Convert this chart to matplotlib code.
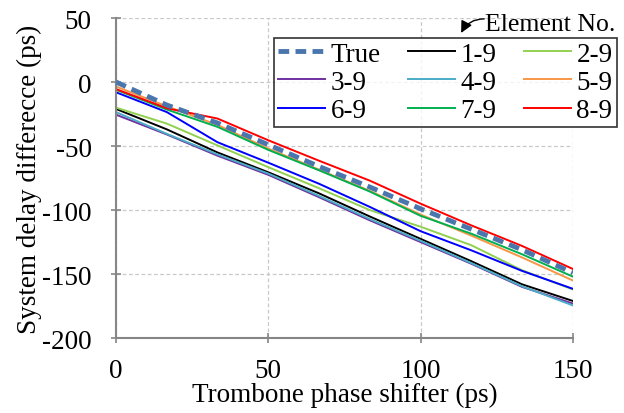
import matplotlib.pyplot as plt
import matplotlib.patches as mpatches
import numpy as np

plt.rcParams['font.family'] = ['Liberation Serif', 'DejaVu Serif']
plt.rcParams['axes.unicode_minus'] = False

# trombone phase shifter setting (ps)
x = [0, 16.7, 33.3, 50, 66.7, 83.3, 100, 116.7, 133.3, 150]

true_delay = [0, -18, -32, -49, -66, -82, -99, -115, -131, -149]
d_1_9 = [-21, -37, -55, -70.5, -87, -105, -122.5, -140, -158, -171]
d_2_9 = [-20, -32.5, -49.5, -66.5, -83, -100, -113, -127.5, -147, -162]
d_3_9 = [-25.5, -41, -57.5, -72.5, -90, -108, -125, -142, -160, -173]
d_4_9 = [-23.5, -40.5, -56.5, -71.5, -89, -107, -124, -141.5, -159.5, -174.5]
d_5_9 = [-3.5, -19, -33.5, -52, -68.5, -85, -103.5, -120, -137, -155]
d_6_9 = [-8, -23.5, -47, -63, -79.5, -97.5, -116.5, -131.5, -147.5, -161.5]
d_7_9 = [-6, -21.5, -35, -53, -69, -85.5, -104.5, -118.5, -134.5, -152]
d_8_9 = [-5.5, -20.5, -28.5, -45.5, -61.5, -77, -95, -112, -128, -146]

series = {
    "1-9": (d_1_9, "#000000"),
    "2-9": (d_2_9, "#92D050"),
    "3-9": (d_3_9, "#7030A0"),
    "4-9": (d_4_9, "#4BACC6"),
    "5-9": (d_5_9, "#F79646"),
    "6-9": (d_6_9, "#0000FF"),
    "7-9": (d_7_9, "#00B050"),
    "8-9": (d_8_9, "#FF0000"),
}

fig = plt.figure(figsize=(6.24, 4.14), dpi=100)
ax = fig.add_axes([0.186, 0.181, 0.732, 0.773])

handles = {}
for name, (vals, col) in series.items():
    h, = ax.plot(x, vals, color=col, lw=1.4, label=name)
    handles[name] = h
h, = ax.plot(x, true_delay, color="#4A76AD", lw=3.5, ls=(0, (2.2, 1.3)), label="True", zorder=5)
handles["True"] = h

ax.set_xlim(0, 150)
ax.set_ylim(-200, 50)
ax.set_xticks([0, 50, 100, 150])
ax.set_yticks(np.arange(-200, 51, 50))
ax.grid(True, color="#C8C8C8", ls=(0, (3, 2)), lw=0.9)
ax.set_axisbelow(True)
for s in ["top", "right"]:
    ax.spines[s].set_visible(False)
for s in ["left", "bottom"]:
    ax.spines[s].set_color("#868686")
    ax.spines[s].set_linewidth(1.5)
ax.tick_params(direction="inout", length=7, width=1.2, color="#868686", labelsize=19.5)
ax.tick_params(axis="y", pad=14)
ax.tick_params(axis="x", pad=11)

ax.set_xlabel("Trombone phase shifter (ps)", fontsize=19.5, labelpad=-1)
ax.set_ylabel("System delay differecce (ps)", fontsize=19.5, labelpad=0)

order = ["True", "3-9", "6-9", "1-9", "4-9", "7-9", "2-9", "5-9", "8-9"]
leg = fig.legend([handles[k] for k in order], order, ncol=3, fontsize=19.5,
                 loc="upper right", bbox_to_anchor=(0.988, 0.907),
                 frameon=True, fancybox=False, edgecolor="black",
                 handlelength=1.75, handletextpad=0.2, columnspacing=1.0,
                 labelspacing=0.12, borderpad=0.15, borderaxespad=0)
leg.get_frame().set_linewidth(1.2)
leg.set_zorder(10)

fig.text(0.778, 0.94, "Element No.", fontsize=18.5, va="center", ha="left")
fig.patches.append(mpatches.FancyArrowPatch(
    (0.776, 0.952), (0.739, 0.918), transform=fig.transFigure,
    arrowstyle="-|>,head_length=0.5,head_width=0.25", mutation_scale=14,
    connectionstyle="arc3,rad=0.3", color="black", lw=1.0,
    shrinkA=0, shrinkB=0))

fig.savefig("out.png", dpi=100)
